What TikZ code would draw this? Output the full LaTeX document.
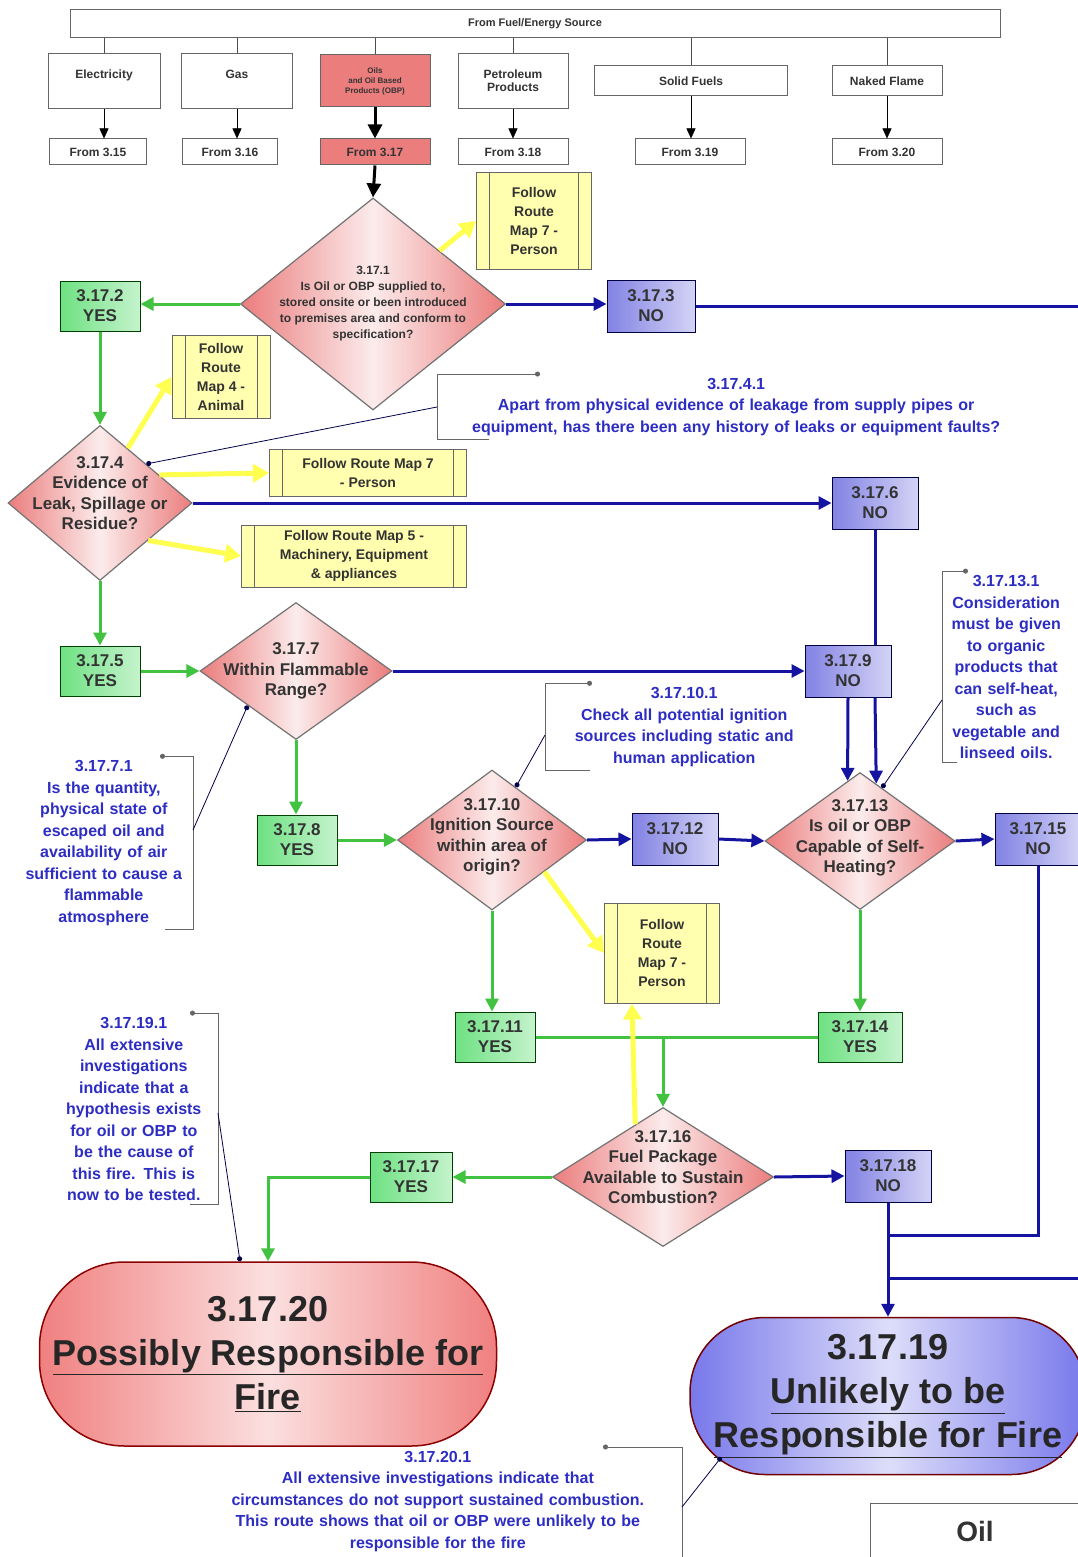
\documentclass[tikz,border=0pt]{standalone}
\usepackage{fontspec}
\setmainfont{Liberation Sans}
\usetikzlibrary{shapes.geometric,arrows.meta,calc}

\definecolor{yesfill}{RGB}{110,225,130}
\definecolor{nofill}{RGB}{130,130,228}
\definecolor{queryfill}{RGB}{235,125,125}
\definecolor{routefill}{RGB}{255,255,175}
\definecolor{linkgreen}{RGB}{65,195,65}
\definecolor{linknavy}{RGB}{20,20,160}
\definecolor{notecolor}{RGB}{45,45,195}
\definecolor{routelink}{RGB}{255,255,80}
\definecolor{endred}{RGB}{240,128,128}
\definecolor{endblue}{RGB}{120,120,235}

\tikzset{%
  every box/.style={
    rectangle,
    draw=black!60,
    line width=1pt,
    align=center,
    text=black!80,
    font=\bfseries
  },
  fuel bar/.style={every box, fill=white, minimum width=930, minimum height=28,
    font=\fontsize{11}{13}\selectfont\bfseries},
  source box/.style={every box, fill=white, font=\fontsize{12}{13}\selectfont\bfseries},
  source oils/.style={fill=queryfill, font=\fontsize{8}{10}\selectfont\bfseries},
  from box/.style={every box, fill=white, minimum height=26,
    font=\fontsize{12}{14}\selectfont\bfseries},
  from oils/.style={fill=queryfill},
  link oils/.style={>={Triangle[length=14pt,width=14pt]}, line width=3pt},
  yes box/.style={every box, draw=green!25!black, left color=yesfill,
    right color=yesfill!40!white, minimum width=80, minimum height=50,
    font=\fontsize{17}{20}\selectfont\bfseries},
  no box/.style={every box, draw=blue!25!black, left color=nofill,
    right color=nofill!35!white, minimum width=86, minimum height=52,
    font=\fontsize{17}{20}\selectfont\bfseries},
  query/.style={diamond, draw=black!55, line width=1.2pt, inner sep=0pt,
    left color=queryfill, right color=queryfill, middle color=queryfill!15!white},
  query text/.style={align=center, text=black!80,
    font=\fontsize{17}{20.5}\selectfont\bfseries},
  route box/.style={every box, fill=routefill, font=\fontsize{14}{19}\selectfont\bfseries,
    path picture={
      \draw [black!60, line width=1pt]
        ([xshift=13pt]path picture bounding box.north west) -- ([xshift=13pt]path picture bounding box.south west)
        ([xshift=-13pt]path picture bounding box.north east) -- ([xshift=-13pt]path picture bounding box.south east);
    }},
  note/.style={text=notecolor, align=center, inner sep=4pt,
    font=\fontsize{16}{21.5}\selectfont\bfseries},
  bracket/.style={draw=black!60, line width=1pt, {Circle[length=5pt]}-},
  note link/.style={draw=blue!30!black, line width=0.8pt, -{Circle[length=5pt]}},
  yes link/.style={>={Triangle[length=13pt,width=13pt]}, ->, draw=linkgreen, line width=3pt},
  no link/.style={>={Triangle[length=13pt,width=13pt]}, ->, draw=linknavy, line width=3pt},
  yes line/.style={draw=linkgreen, line width=3pt},
  no line/.style={draw=linknavy, line width=3pt},
  route link/.style={>={Triangle[length=16pt,width=18pt]}, ->, draw=routelink, line width=5pt},
  terminal/.style={rectangle, line width=1.5pt, align=center, text=black!85,
    font=\fontsize{36}{44}\selectfont\bfseries},
}

\begin{document}
\begin{tikzpicture}[x=1pt, y=-1pt, >={Triangle[length=10pt,width=9pt]}]
\fill [white] (0,0) rectangle (1077,1557);
\useasboundingbox (0,0) rectangle (1077,1557);

\node [fuel bar] (fuel) at (535,24) {From Fuel/Energy Source};

\foreach \m/\x/\w/\h/\txt in {elec/104/112/55/{Electricity\\\mbox{}}, gas/237/111/55/{Gas\\\mbox{}},
    oils/375/110/52/{Oils\\and Oil Based\\Products (OBP)}, petrol/513/110/55/{Petroleum\\Products},
    solid/691/193/30/{Solid Fuels}, flame/887/110/30/{Naked Flame}}
  \node [source box, source \m/.try, minimum width=\w, minimum height=\h] (source-\m) at (\x,81) {\txt};

\foreach \m/\x/\w [count=\i from 15] in {elec/98/97, gas/230/95, oils/375/110,
    petrol/513/110, solid/690/110, flame/887/110}
  \node [from box, from \m/.try, minimum width=\w] (from-\m) at (\x,152) {From 3.\i};

\foreach \m in {elec,gas,oils,petrol,solid,flame} {
  \draw [black!70, line width=1pt] (source-\m.north) -- (source-\m.north |- fuel.south);
  \draw [->, link \m/.try] (source-\m.south) -- (source-\m.south |- from-\m.north);
}

\node [query, minimum width=265, minimum height=212,
  label={[query text, font=\fontsize{12}{16}\selectfont\bfseries]center:{3.17.1\\Is Oil or OBP supplied to,\\stored onsite or been introduced\\to premises area and conform to\\specification?}}]
  (q1) at (373,304) {};
\node [route box, minimum width=115, minimum height=97] (route7a) at (534,221) {Follow\\Route\\Map 7 -\\Person};
\node [yes box] (yes2) at (100,306) {3.17.2\\YES};
\node [no box, minimum width=88] (no3) at (651,306) {3.17.3\\NO};
\node [route box, minimum width=98, minimum height=83] (route4) at (221,377) {Follow\\Route\\Map 4 -\\Animal};
\node [query, minimum width=184, minimum height=155,
  label={[query text, yshift=10pt]center:{3.17.4\\Evidence of\\Leak, Spillage or\\Residue?}}]
  (q4) at (100,503) {};
\node [note, text width=590, anchor=west] (note41) at (437,407)
  {3.17.4.1\\Apart from physical evidence of leakage from supply pipes or\\equipment, has there been any history of leaks or equipment faults?};
\node [route box, minimum width=197, minimum height=47] (route7b) at (368,473) {Follow Route Map 7\\- Person};
\node [no box] (no6) at (875,503) {3.17.6\\NO};
\node [route box, minimum width=225, minimum height=62] (route5) at (354,556) {Follow Route Map 5 -\\Machinery, Equipment\\\& appliances};

\node [yes box] (yes5) at (100,671) {3.17.5\\YES};
\node [query, minimum width=192, minimum height=137,
  label={[query text]center:{3.17.7\\Within Flammable\\Range?}}]
  (q7) at (296,671) {};
\node [no box] (no9) at (848,671) {3.17.9\\NO};
\node [note, text width=170, anchor=east] (note71) at (193,843)
  {3.17.7.1\\Is the quantity,\\physical state of\\escaped oil and\\availability of air\\sufficient to cause a\\flammable\\atmosphere};
\node [note, text width=270, anchor=west] (note101) at (545,727)
  {3.17.10.1\\Check all potential ignition\\sources including static and\\human application};
\node [note, text width=120, anchor=west] (note131) at (942,667)
  {3.17.13.1\\Consideration\\must be given\\to organic\\products that\\can self-heat,\\such as\\vegetable and\\linseed oils.};

\node [yes box] (yes8) at (297,840) {3.17.8\\YES};
\node [query, minimum width=189, minimum height=140,
  label={[query text, yshift=3pt]center:{3.17.10\\Ignition Source\\within area of\\origin?}}]
  (q10) at (492,840) {};
\node [no box] (no12) at (675,839) {3.17.12\\NO};
\node [query, minimum width=190, minimum height=137,
  label={[query text, yshift=3pt]center:{3.17.13\\Is oil or OBP\\Capable of Self-\\Heating?}}]
  (q13) at (860,841) {};
\node [no box] (no15) at (1038,839) {3.17.15\\NO};

\node [route box, minimum width=115, minimum height=100] (route7c) at (662,953) {Follow\\Route\\Map 7 -\\Person};
\node [yes box] (yes11) at (495,1037) {3.17.11\\YES};
\node [yes box, minimum width=84] (yes14) at (860,1037) {3.17.14\\YES};
\node [query, minimum width=221, minimum height=139,
  label={[query text, yshift=10pt]center:{3.17.16\\Fuel Package\\Available to Sustain\\Combustion?}}]
  (q16) at (663,1177) {};
\node [yes box, minimum width=82] (yes17) at (411,1177) {3.17.17\\YES};
\node [no box] (no18) at (888,1176) {3.17.18\\NO};
\node [note, text width=160, anchor=east] (note191) at (218,1109)
  {3.17.19.1\\All extensive\\investigations\\indicate that a\\hypothesis exists\\for oil or OBP to\\be the cause of\\this fire. This is\\now to be tested.};

\node [terminal, draw=red!55!black, left color=endred, right color=endred, middle color=endred!25!white,
  rounded corners=85pt, minimum width=457, minimum height=184] (end20) at (268,1354)
  {3.17.20\\\underline{Possibly Responsible for}\\\underline{Fire}};
\node [terminal, draw=red!45!black, left color=endblue, right color=endblue, middle color=endblue!25!white,
  rounded corners=75pt, minimum width=396, minimum height=157] (end19) at (888,1396)
  {3.17.19\\\underline{Unlikely to be}\\\underline{Responsible for Fire}};
\node [note, text width=480, anchor=north east] (note201) at (682,1447)
  {3.17.20.1\\All extensive investigations indicate that\\circumstances do not support sustained combustion.\\This route shows that oil or OBP were unlikely to be\\responsible for the fire};
\node [every box, fill=white, minimum width=210, minimum height=56,
  font=\fontsize{28}{32}\selectfont\bfseries] (oil) at (975,1531) {Oil};

\coordinate (join) at (q16.north |- yes11.east);
\coordinate (merge) at (888,1235);
\coordinate (exit3) at (1080,306);
\coordinate (exit19) at (1080,1278);

\draw [->, link oils] (from-oils.south) -- (q1.north);

\draw [yes link] (q1.west) -- (q1.west -| yes2.east);
\draw [yes link] (yes2.south) -- (q4.north);
\draw [yes link] (q4.south) -- (yes5.north);
\draw [yes link] (yes5.east) -- (q7.west);
\draw [yes link] (q7.south) -- (q7.south |- yes8.north);
\draw [yes link] (yes8.east) -- (q10.west);
\draw [yes link] (q10.south) -- (q10.south |- yes11.north);
\draw [yes link] (q13.south) -- (yes14.north);
\draw [yes line] (yes11.east) -- (yes14.west);
\draw [yes link] (join) -- (q16.north);
\draw [yes link] (q16.west) -- (yes17.east);
\draw [yes link] (yes17.west) -| (end20.north);

\draw [no link] (q1.east) -- (q1.east -| no3.west);
\draw [no line] (no3.east) -- (exit3);
\draw [no link] (q4.east) -- (no6.west);
\draw [no line] (no6.south) -- (no6.south |- no9.north);
\draw [no link] (no6.south |- no9.south) -- ($(q13.north)!0.17!(q13.east)$);
\draw [no link] (no9.south) -- ($(q13.north)!0.13!(q13.west)$);
\draw [no link] (q7.east) -- (no9.west);
\draw [no link] (q10.east) -- (no12.west);
\draw [no link] (no12.east) -- (q13.west);
\draw [no link] (q13.east) -- (no15.west);
\draw [no line] (no15.south) |- (merge);
\draw [no line] (exit19) -- (exit19 -| no18.south);
\draw [no link] (q16.east) -- (no18.west);
\draw [no link] (no18.south) -- (end19.north);

\draw [route link] (q1.north east) -- (route7a.west);
\draw [route link] ($(q4.north)!0.3!(q4.east)$) -- (route4.west);
\draw [route link] ($(q4.north)!0.64!(q4.east)$) -- (route7b.west);
\draw [route link] ($(q4.east)!0.48!(q4.south)$) -- (route5.west);
\draw [route link] ($(q10.east)!0.45!(q10.south)$) -- (route7c.west);
\draw [route link] ($(q16.north)!0.25!(q16.west)$) -- ([xshift=-30pt]route7c.south);

\draw [bracket] ([xshift=103pt]note41.north west) -- (note41.north west) -- (note41.south west) -- ++(52,0);
\draw [bracket] ([xshift=-33pt]note71.north east) -- (note71.north east) -- (note71.south east) -- ++(-28,0);
\draw [bracket] ([xshift=47pt]note101.north west) -- (note101.north west) -- (note101.south west) -- ++(45,0);
\draw [bracket] ([xshift=26pt]note131.north west) -- (note131.north west) -- (note131.south west) -- ++(15,0);
\draw [bracket] ([xshift=-28pt]note191.north east) -- (note191.north east) -- (note191.south east) -- ++(-28,0);
\draw [bracket] ([xshift=-79pt]note201.north east) -- (note201.north east) -- ++(0,130);

\draw [note link] (note41.west) -- (q4.north east);
\draw [note link] ([yshift=13pt]note71.east) -- (q7.south west);
\draw [note link] ([yshift=-8pt]note101.west) -- ($(q10.north)!0.25!(q10.east)$);
\draw [note link] ([yshift=-33pt]note131.west) -- ($(q13.north)!0.23!(q13.east)$);
\draw [note link] ([yshift=-4pt]note191.east) -- ([xshift=-28pt]end20.north);
\draw [note link] ([yshift=-60pt]note201.north east) -- ($(end19.south west)+(32,-18)$);

\end{tikzpicture}
\end{document}
